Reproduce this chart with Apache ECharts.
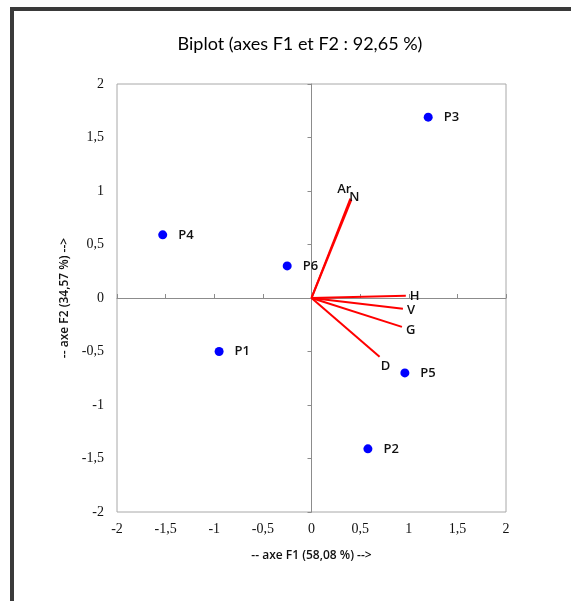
<!DOCTYPE html>
<html>
<head>
<meta charset="utf-8">
<script src="https://cdn.jsdelivr.net/npm/echarts@6/dist/echarts.min.js"></script>
<style>
  html, body { margin: 0; padding: 0; background: #fff; }
  #chart { width: 571px; height: 601px; }
</style>
</head>
<body>
<div id="chart"></div>
<script>
// observations
const obsNames = ['P1', 'P2', 'P3', 'P4', 'P5', 'P6']
const obsF1 = [-0.95, 0.58, 1.20, -1.53, 0.96, -0.25]
const obsF2 = [-0.50, -1.41, 1.69, 0.59, -0.70, 0.30]

// variables (vecteurs)
const varNames = ['Ar', 'N', 'H', 'V', 'G', 'D']
const varF1 = [0.40, 0.41, 0.97, 0.94, 0.93, 0.70]
const varF2 = [0.93, 0.92, 0.02, -0.10, -0.27, -0.55]

// ticks
const axisMin = -2
const axisMax = 2
const tickStep = 0.5

const fmt = v => String(v).replace('.', ',')

// label placement for the vector names
const varLabelPos = {
    Ar: { position: 'left', offset: [5, -9] },
    N: { position: 'right', offset: [-6, -2] },
    H: { position: 'right', offset: [0, 0] },
    V: { position: 'right', offset: [0, 2] },
    G: { position: 'right', offset: [0, 3] },
    D: { position: 'bottom', offset: [6, -1] }
}

const chart = echarts.init(document.getElementById('chart'))

const axisCommon = {
    type: 'value',
    min: axisMin,
    max: axisMax,
    interval: tickStep,
    splitLine: { show: false }
}

const labelFont = {
    fontFamily: 'Liberation Serif',
    fontSize: 14,
    color: '#111'
}

const option = {
    animation: false,
    title: {
        text: 'Biplot (axes F1 et F2 : 92,65 %)',
        left: 295,
        top: 30,
        textAlign: 'center',
        textStyle: { fontFamily: 'Lato', fontSize: 18, fontWeight: 'normal', color: '#000' }
    },
    graphic: [{
        type: 'rect',
        shape: { x: 12, y: 9, width: 700, height: 700 },
        style: { fill: 'none', stroke: '#3a3a3a', lineWidth: 4 },
        silent: true
    }],
    grid: {
        left: 117, top: 84, right: 65, bottom: 89,
        show: true,
        borderColor: '#a8a8a8',
        borderWidth: 1,
        backgroundColor: '#fff'
    },
    xAxis: [
        Object.assign({}, axisCommon, {
            position: 'bottom',
            axisLine: { show: false, onZero: false },
            axisTick: { show: false },
            axisLabel: Object.assign({ margin: 10, formatter: fmt }, labelFont),
            name: '-- axe F1 (58,08 %) -->',
            nameLocation: 'middle',
            nameGap: 38,
            nameTextStyle: { fontFamily: 'Open Sans', fontSize: 12, fontWeight: 600, color: '#111' }
        }),
        Object.assign({}, axisCommon, {
            axisLine: { show: true, onZero: true, lineStyle: { color: '#8c8c8c' } },
            axisTick: { show: true, length: 4, lineStyle: { color: '#8c8c8c' } },
            axisLabel: { show: false }
        })
    ],
    yAxis: [
        Object.assign({}, axisCommon, {
            position: 'left',
            axisLine: { show: false, onZero: false },
            axisTick: { show: false },
            axisLabel: Object.assign({ margin: 13, formatter: fmt }, labelFont),
            name: '-- axe F2 (34,57 %) -->',
            nameLocation: 'middle',
            nameGap: 45,
            nameTextStyle: { fontFamily: 'Open Sans', fontSize: 12, fontWeight: 600, color: '#111' }
        }),
        Object.assign({}, axisCommon, {
            axisLine: { show: true, onZero: true, lineStyle: { color: '#8c8c8c' } },
            axisTick: { show: true, inside: true, length: 4, lineStyle: { color: '#8c8c8c' } },
            axisLabel: { show: false }
        })
    ],
    series: [
        {
            type: 'lines',
            coordinateSystem: 'cartesian2d',
            xAxisIndex: 0,
            yAxisIndex: 0,
            symbol: 'none',
            lineStyle: { color: '#ff0000', width: 2, opacity: 1 },
            data: varNames.map((n, i) => ({ coords: [[0, 0], [varF1[i], varF2[i]]] })),
            z: 3
        },
        {
            type: 'scatter',
            xAxisIndex: 0,
            yAxisIndex: 0,
            symbolSize: 0,
            itemStyle: { opacity: 1 },
            data: varNames.map((n, i) => ({
                value: [varF1[i], varF2[i]],
                name: n,
                label: Object.assign({ show: true, formatter: n, distance: 4 }, varLabelPos[n])
            })),
            label: { fontFamily: 'Open Sans', fontSize: 13, fontWeight: 600, color: '#111', opacity: 1 },
            z: 4
        },
        {
            type: 'scatter',
            xAxisIndex: 0,
            yAxisIndex: 0,
            symbol: 'circle',
            symbolSize: 9,
            itemStyle: { color: '#0000ff', opacity: 1 },
            data: obsNames.map((n, i) => ({ value: [obsF1[i], obsF2[i]], name: n })),
            label: {
                show: true,
                position: 'right',
                distance: 11,
                formatter: '{b}',
                fontFamily: 'Open Sans',
                fontSize: 13,
                fontWeight: 600,
                color: '#111'
            },
            z: 5
        }
    ]
}

chart.setOption(option)
window.addEventListener('resize', () => chart.resize())
</script>
</body>
</html>
